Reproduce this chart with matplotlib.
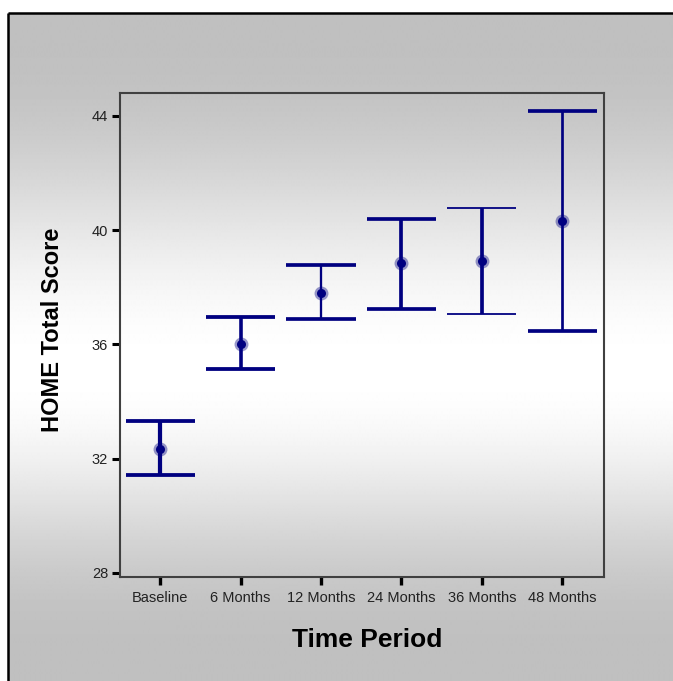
import numpy as np
import matplotlib
matplotlib.use("Agg")
import matplotlib.pyplot as plt

plt.rcParams['font.family'] = ['Liberation Sans', 'DejaVu Sans']

# ---- data ----
categories = ["Baseline", "6 Months", "12 Months", "24 Months", "36 Months", "48 Months"]
means = [32.33, 36.03, 37.79, 38.85, 38.92, 40.31]
upper = [33.31, 36.95, 38.77, 40.39, 40.78, 44.18]
lower = [31.42, 35.13, 36.88, 37.24, 37.07, 36.47]
yticks = [28, 32, 36, 40, 44]

# per-bar rendering widths (px) seen in the reference
cap_px = [3.8, 3.8, 3.7, 3.7, 1.8, 3.7]
stem_px = [4.2, 3.6, 2.3, 3.7, 3.7, 2.7]

W, H, DPI = 673, 681, 100
fig = plt.figure(figsize=(W / DPI, H / DPI), dpi=DPI)
fig.patch.set_facecolor('white')

# background gradient panel
bg = fig.add_axes([0, 0, 1, 1], zorder=-10)
bg.set_xlim(0, W)
bg.set_ylim(H, 0)
bg.axis('off')
rows = np.arange(13, H + 1).astype(float)
top0, peak, bot0 = 45.0, 370.0, 645.0
u = np.where(rows < peak, (rows - top0) / (peak - top0), (bot0 - rows) / (bot0 - peak))
u = np.clip(u, 0, 1)
vals = (192 + 63 * (0.5 - 0.5 * np.cos(np.pi * u))) / 255.0
grad = np.repeat(vals[:, None], 2, axis=1)
bg.imshow(grad, cmap='gray', vmin=0, vmax=1, extent=[8, W, H, 13], aspect='auto',
          interpolation='bilinear')
bg.plot([8, 8], [H, 13], color='black', lw=1.8, solid_capstyle='butt')
bg.plot([8, W], [13, 13], color='black', lw=1.8, solid_capstyle='butt')

ax = fig.add_axes([120 / W, 1 - 577 / H, 484 / W, 484 / H])
ax.patch.set_alpha(0)

x = np.arange(len(categories))
navy = '#000080'
half = 0.43
for i in range(len(categories)):
    ax.plot([x[i], x[i]], [lower[i], upper[i]], color=navy, lw=stem_px[i] * 0.72,
            solid_capstyle='butt', zorder=3)
    ax.hlines([lower[i], upper[i]], x[i] - half, x[i] + half, colors=navy,
              lw=cap_px[i] * 0.72, zorder=3)
ax.plot(x, means, 'o', ms=10, color=navy, alpha=0.4, mec='none', zorder=4)
ax.plot(x, means, 'o', ms=6.5, color=navy, mec='none', zorder=5)

ax.set_xlim(-0.5, 5.52)
ax.set_ylim(27.86, 44.8)
ax.set_xticks(x)
ax.set_xticklabels(categories)
ax.set_yticks(yticks)
ax.set_yticklabels([str(t) for t in yticks])

for s in ax.spines.values():
    s.set_color('#404040')
    s.set_linewidth(1.5)

ax.tick_params(axis='y', length=5.5, width=2.2, color='black', labelsize=10.5,
               labelcolor='#222222', pad=3)
ax.tick_params(axis='x', length=6, width=2.4, color='black', labelsize=10.5,
               labelcolor='#222222', pad=4)

ax.set_ylabel('HOME Total Score', fontsize=17, fontweight='bold', va='center')
ax.yaxis.set_label_coords((53 - 120) / 484, (577 - 330) / 484)
ax.set_xlabel('Time Period', fontsize=19, fontweight='bold', va='center')
ax.xaxis.set_label_coords((367.5 - 120) / 484, (577 - 640) / 484)

fig.savefig('out.png', dpi=DPI)
